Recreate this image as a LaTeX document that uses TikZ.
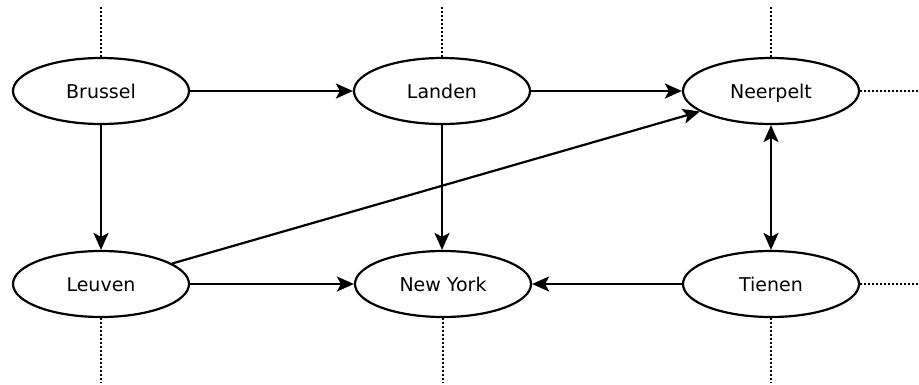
\documentclass[tikz,border=0pt]{standalone}
\usepackage{fontspec}
\setmainfont{DejaVu Sans}
\usepackage{tikz}
\usetikzlibrary{shapes, arrows.meta}
\tikzset{
    normal/.style={draw, line width=2.2pt},
    city/.style={style=normal, ellipse, minimum width=176pt, minimum height=66pt, inner sep=0pt,
        text height=14pt, text depth=0pt, font=\fontsize{19}{21}\selectfont}, % places
    e/.style={style=normal, ->, >={Stealth[length=17pt, width=15pt, inset=4pt]}}, % links
    be/.style={style=e, <->}, % both ways
    cont/.style={line width=2.2pt, dash pattern=on 2pt off 2pt} % graph goes on
}

\begin{document}
\begin{tikzpicture}[x=1pt, y=-1pt]
        \useasboundingbox (0,0) rectangle (919,384);

        \node[city] (Brussel) at (101, 91) {Brussel};
        \node[city] (Landen) at (442, 91) {Landen};
        \node[city] (Neerpelt) at (771, 91) {Neerpelt};
        \node[city] (Leuven) at (101, 284) {Leuven};
        \node[city] (NewYork) at (443, 284) {New York};
        \node[city] (Tienen) at (771, 284) {Tienen};

        % loose ends
        \coordinate (BrusselUp) at (101, 7);
        \coordinate (LandenUp) at (442, 7);
        \coordinate (NeerpeltUp) at (771, 7);
        \coordinate (NeerpeltOut) at (918, 91);
        \coordinate (LeuvenDown) at (101, 383);
        \coordinate (NewYorkDown) at (443, 383);
        \coordinate (TienenDown) at (771, 383);
        \coordinate (TienenOut) at (918, 284);

        \draw[cont] (Brussel.north) -- (BrusselUp);
        \draw[cont] (Landen.north) -- (LandenUp);
        \draw[cont] (Neerpelt.north) -- (NeerpeltUp);
        \draw[cont] (Neerpelt.east) -- (NeerpeltOut);
        \draw[cont] (Leuven.south) -- (LeuvenDown);
        \draw[cont] (NewYork.south) -- (NewYorkDown);
        \draw[cont] (Tienen.south) -- (TienenDown);
        \draw[cont] (Tienen.east) -- (TienenOut);

        \draw[e] (Brussel) -- (Landen);
        \draw[e] (Landen) -- (Neerpelt);
        \draw[e] (Brussel) -- (Leuven);
        \draw[e] (Landen.south) -- (Landen.south |- NewYork.north);
        \draw[e] (Leuven) -- (Neerpelt);
        \draw[e] (Leuven) -- (NewYork);
        \draw[e] (Tienen) -- (NewYork);
        \draw[be] (Neerpelt) -- (Tienen);
      \end{tikzpicture}
\end{document}
